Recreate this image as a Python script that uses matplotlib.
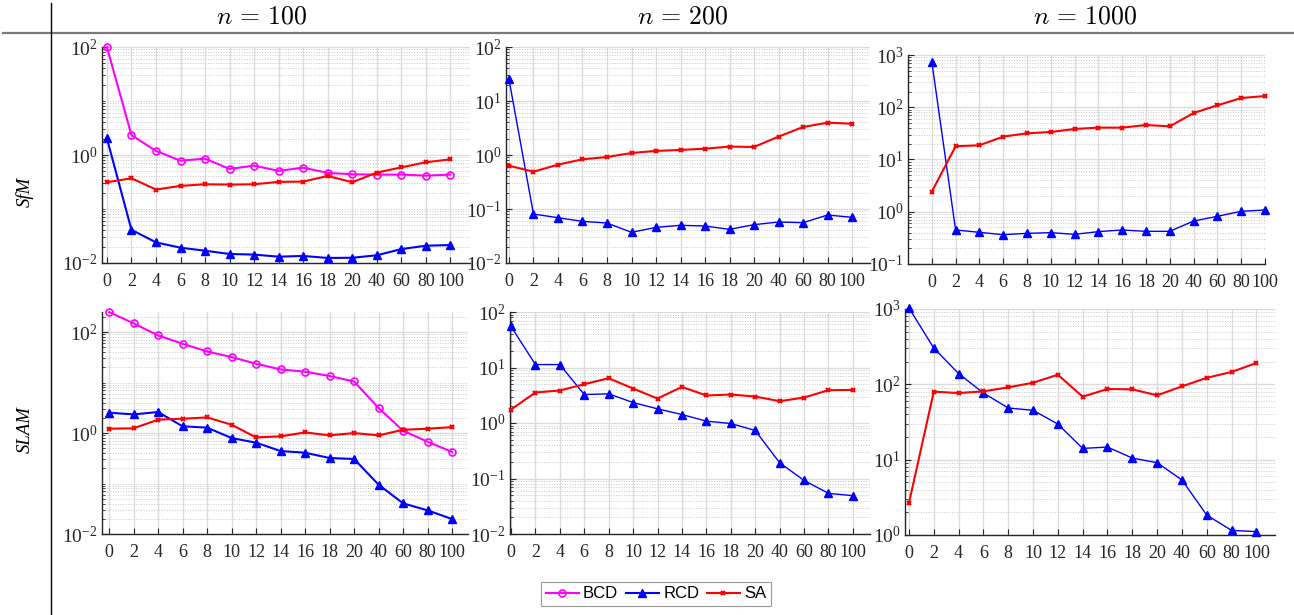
import matplotlib
matplotlib.use("Agg")
import matplotlib.pyplot as plt
from matplotlib.lines import Line2D
from matplotlib.ticker import LogLocator, NullFormatter, FixedLocator

plt.rcParams["font.family"] = ["Liberation Serif", "DejaVu Serif"]
plt.rcParams["mathtext.fontset"] = "stix"

# x axis: categorical steps, equally spaced
x_labels = ["0", "2", "4", "6", "8", "10", "12", "14", "16", "18", "20", "40", "60", "80", "100"]
col_titles = [r"$n\,=\,100$", r"$n\,=\,200$", r"$n\,=\,1000$"]
row_titles = ["SfM", "SLAM"]

# SfM, n = 100
sfm100_bcd = [100, 2.34, 1.19, 0.785, 0.855, 0.552, 0.636, 0.507, 0.583, 0.466, 0.44, 0.433, 0.433, 0.415, 0.433]
sfm100_rcd = [2.03, 0.0412, 0.0241, 0.0192, 0.0169, 0.0147, 0.0143, 0.0131, 0.0135, 0.0124, 0.0125, 0.0139, 0.0181, 0.0209, 0.0215]
sfm100_sa = [0.313, 0.371, 0.229, 0.268, 0.287, 0.283, 0.287, 0.318, 0.322, 0.409, 0.313, 0.472, 0.591, 0.733, 0.832]
# SfM, n = 200
sfm200_rcd = [25.5, 0.0807, 0.069, 0.059, 0.055, 0.037, 0.0457, 0.0499, 0.0484, 0.042, 0.0513, 0.0574, 0.0558, 0.0774, 0.0701]
sfm200_sa = [0.634, 0.491, 0.662, 0.832, 0.918, 1.09, 1.19, 1.24, 1.31, 1.43, 1.41, 2.19, 3.30, 3.97, 3.80]
# SfM, n = 1000
sfm1000_rcd = [745, 0.448, 0.404, 0.364, 0.386, 0.398, 0.37, 0.416, 0.448, 0.422, 0.422, 0.665, 0.817, 1.02, 1.08]
sfm1000_sa = [2.42, 17.9, 18.7, 27.4, 31.7, 33.6, 38.4, 40.7, 40.7, 45.7, 43.1, 77.6, 109, 150, 164]
# SLAM, n = 100
slam100_bcd = [249, 149, 85.9, 58.7, 41.4, 32.0, 23.6, 18.2, 16.4, 13.5, 10.5, 3.13, 1.11, 0.673, 0.421]
slam100_rcd = [2.53, 2.34, 2.61, 1.36, 1.28, 0.796, 0.644, 0.44, 0.408, 0.32, 0.306, 0.0948, 0.0405, 0.0294, 0.0198]
slam100_sa = [1.22, 1.24, 1.84, 1.92, 2.04, 1.46, 0.82, 0.859, 1.03, 0.899, 1.0, 0.899, 1.16, 1.22, 1.31]
# SLAM, n = 200
slam200_rcd = [55.2, 11.3, 11.3, 3.26, 3.35, 2.34, 1.80, 1.42, 1.08, 0.98, 0.733, 0.192, 0.0924, 0.054, 0.049]
slam200_sa = [1.75, 3.54, 3.85, 5.0, 6.41, 4.18, 2.76, 4.47, 3.13, 3.26, 3.0, 2.47, 2.88, 3.90, 3.95]
# SLAM, n = 1000
slam1000_rcd = [1030, 303, 139, 76.7, 48.5, 45.2, 29.7, 14.1, 14.7, 10.5, 9.12, 5.37, 1.84, 1.15, 1.11]
slam1000_sa = [2.66, 80, 76.7, 80.7, 91.2, 105, 134, 68.5, 86.7, 85.8, 71.5, 94, 122, 146, 192]

W, H = 1294, 615
fig = plt.figure(figsize=(W / 100, H / 100), dpi=100)


def add_axes_px(left, top, right, bottom):
    return fig.add_axes([left / W, 1 - bottom / H, (right - left) / W, (bottom - top) / H])


# (box in px, xlim, ylim, major y ticks, series)
panels = [
    ((102, 47, 470, 263), (-0.2, 14.8), (1e-2, 1e2), [1e-2, 1e0, 1e2],
     {"BCD": sfm100_bcd, "RCD": sfm100_rcd, "SA": sfm100_sa}),
    ((506, 47, 870, 263), (-0.12, 14.73), (1e-2, 1e2), [1e-2, 1e-1, 1e0, 1e1, 1e2],
     {"RCD": sfm200_rcd, "SA": sfm200_sa}),
    ((908, 55, 1265, 264), (-1, 14), (1e-1, 1e3), [1e-1, 1e0, 1e1, 1e2, 1e3],
     {"RCD": sfm1000_rcd, "SA": sfm1000_sa}),
    ((102, 312, 468, 534), (-0.29, 14.65), (1e-2, 250), [1e-2, 1e0, 1e2],
     {"BCD": slam100_bcd, "RCD": slam100_rcd, "SA": slam100_sa}),
    ((510, 312, 870, 534), (-0.04, 14.7), (1e-2, 1e2), [1e-2, 1e-1, 1e0, 1e1, 1e2],
     {"RCD": slam200_rcd, "SA": slam200_sa}),
    ((905, 309, 1275, 535), (-0.16, 14.75), (1e0, 1e3), [1e0, 1e1, 1e2, 1e3],
     {"RCD": slam1000_rcd, "SA": slam1000_sa}),
]

styles = {
    "BCD": dict(color="#ff00ff", marker="o", markersize=5, markerfacecolor="none", markeredgewidth=1.2),
    "RCD": dict(color="#0000ff", marker="^", markersize=6),
    "SA": dict(color="#ff0000", marker="x", markersize=3.5, markeredgewidth=1.5),
}

xs = list(range(len(x_labels)))
spine_color = "#262626"

for i, (box, xlim, ylim, yticks, series) in enumerate(panels):
    ax = add_axes_px(*box)
    col = i % 3
    for name, vals in series.items():
        lw = 1.5
        if name == "RCD" and col > 0:
            lw = 1.0
        ax.plot(xs, vals, linewidth=lw, clip_on=False, zorder=3, **styles[name])
    ax.set_yscale("log")
    ax.set_xlim(*xlim)
    ax.set_ylim(*ylim)
    ax.set_xticks(xs)
    ax.set_xticklabels(x_labels)
    ax.yaxis.set_major_locator(FixedLocator(yticks))
    ax.yaxis.set_minor_locator(LogLocator(base=10, subs=range(1, 10), numticks=30))
    ax.yaxis.set_minor_formatter(NullFormatter())
    ax.grid(True, which="major", color="#dcdcdc", linewidth=1.0, linestyle="-")
    ax.grid(True, which="minor", axis="y", color="#c8c8c8", linewidth=0.7, linestyle=":")
    ax.set_axisbelow(True)
    for side in ["top", "right"]:
        ax.spines[side].set_visible(False)
    for side in ["left", "bottom"]:
        ax.spines[side].set_color(spine_color)
        ax.spines[side].set_linewidth(1.0)
    ax.tick_params(axis="both", which="both", direction="in", colors=spine_color,
                   labelcolor="#262626")
    ax.tick_params(axis="x", which="major", length=4, labelsize=13, pad=7)
    ax.tick_params(axis="y", which="major", length=4, labelsize=14, pad=3)
    ax.tick_params(axis="y", which="minor", length=2)

# column titles
col_x = [262, 683, 1085]
for cx, t in zip(col_x, col_titles):
    fig.text(cx / W, 1 - 17 / H, t, ha="center", va="center", fontsize=18.5, math_fontfamily="cm")

# row titles
row_y = [192, 430]
for ry, t in zip(row_y, row_titles):
    fig.text(25 / W, 1 - ry / H, t, ha="center", va="center", rotation=90,
             fontsize=13.5, style="italic")

# table rules
fig.add_artist(Line2D([3 / W, 1], [1 - 33 / H, 1 - 33 / H], color="#7a7a7a", linewidth=1.6))
fig.add_artist(Line2D([51 / W, 51 / W], [0, 1 - 3 / H], color="black", linewidth=1.0))

# legend
handles = [Line2D([], [], linewidth=1.5, **styles[k]) for k in ["BCD", "RCD", "SA"]]
leg = fig.legend(handles, ["BCD", "RCD", "SA"], loc="center", bbox_to_anchor=(656 / W, 1 - 594 / H),
                 ncol=3, frameon=True, fancybox=False, edgecolor="#808080", handlelength=2.0,
                 handletextpad=0.25, columnspacing=0.45, borderpad=0.25, borderaxespad=0,
                 prop={"family": ["Liberation Sans", "DejaVu Sans"], "size": 12})
leg.get_frame().set_linewidth(0.8)

fig.savefig("out.png", dpi=100)
